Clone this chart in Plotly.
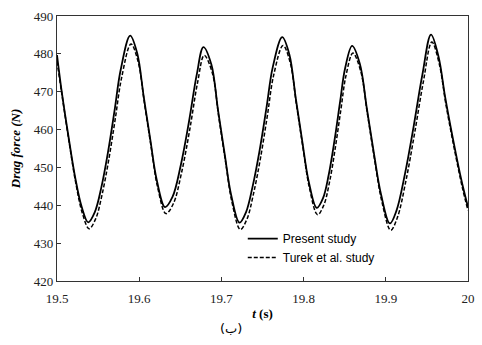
import plotly.graph_objects as go

# ---- data ----
t_present = [19.500, 19.506, 19.514, 19.522, 19.530, 19.538, 19.546, 19.554, 19.562, 19.570,
             19.5775, 19.589, 19.5975, 19.6055, 19.6136, 19.6214, 19.6315, 19.6405, 19.6505, 19.6605,
             19.670, 19.6781, 19.6878, 19.6958, 19.704, 19.7118, 19.722, 19.730, 19.738, 19.7465,
             19.755, 19.7625, 19.774, 19.7826, 19.7904, 19.7984, 19.806, 19.816, 19.8235, 19.8305,
             19.8375, 19.8445, 19.8505, 19.859, 19.8684, 19.877, 19.8857, 19.8941, 19.905, 19.913,
             19.9235, 19.934, 19.9445, 19.955, 19.9641, 19.9721, 19.982, 19.992, 20.000]
f_present = [479.7, 469.6, 458.1, 447.5, 439.6, 435.5, 438.2, 444.8, 454.0, 465.0,
             475.8, 484.8, 480.2, 468.7, 457.2, 446.6, 439.5, 442.2, 450.5, 462.0,
             474.5, 481.8, 477.2, 465.3, 453.5, 442.8, 435.4, 438.2, 445.0, 454.5,
             466.0, 476.5, 484.4, 479.9, 468.4, 456.9, 446.5, 439.3, 441.8, 448.0,
             457.0, 467.5, 476.2, 482.1, 477.4, 465.5, 453.5, 443.0, 435.2, 438.6,
             448.5, 461.0, 474.5, 485.1, 479.3, 468.7, 457.2, 446.6, 439.5]

t_turek = [19.500, 19.507, 19.515, 19.523, 19.531, 19.539, 19.547, 19.555, 19.563, 19.571,
           19.5785, 19.590, 19.5985, 19.6065, 19.6146, 19.6224, 19.6325, 19.6415, 19.6515, 19.6615,
           19.671, 19.6791, 19.6888, 19.6968, 19.705, 19.7128, 19.723, 19.731, 19.739, 19.7475,
           19.756, 19.7635, 19.775, 19.7836, 19.7914, 19.7994, 19.807, 19.817, 19.8245, 19.8315,
           19.8385, 19.8455, 19.8515, 19.860, 19.8694, 19.878, 19.8867, 19.8951, 19.906, 19.914,
           19.9245, 19.935, 19.9455, 19.956, 19.9651, 19.9731, 19.983, 19.993, 20.000]
f_turek = [478.0, 467.8, 456.3, 445.7, 437.8, 433.8, 436.4, 443.0, 452.1, 463.0,
           473.6, 482.6, 478.1, 466.8, 455.3, 444.8, 437.8, 440.4, 448.6, 460.0,
           472.4, 479.6, 475.1, 463.3, 451.6, 440.9, 433.6, 436.3, 443.0, 452.4,
           463.8, 474.3, 482.2, 477.8, 466.4, 455.0, 444.7, 437.5, 440.0, 446.1,
           455.1, 465.5, 474.2, 480.2, 475.5, 463.6, 451.6, 441.1, 433.4, 436.7,
           446.5, 459.0, 472.4, 483.1, 477.3, 466.7, 455.3, 444.8, 438.6]

x_ticks = [19.5, 19.6, 19.7, 19.8, 19.9, 20.0]
x_tick_labels = ["19.5", "19.6", "19.7", "19.8", "19.9", "20"]
y_ticks = [420, 430, 440, 450, 460, 470, 480, 490]

fig = go.Figure()
fig.add_trace(go.Scatter(x=t_present, y=f_present, mode="lines", name="Present study",
                         line=dict(color="black", width=1.8, shape="spline", smoothing=1.0)))
fig.add_trace(go.Scatter(x=t_turek, y=f_turek, mode="lines", name="Turek et al. study",
                         line=dict(color="black", width=1.5, dash="4px,2px", shape="spline", smoothing=1.0)))

serif = "Liberation Serif"
fig.update_layout(
    width=482, height=345,
    margin=dict(l=57, r=7, t=16, b=64),
    paper_bgcolor="white", plot_bgcolor="white",
    showlegend=True,
    legend=dict(x=0.452, y=0.215, xanchor="left", yanchor="top",
                bgcolor="rgba(0,0,0,0)", font=dict(family="Liberation Sans", size=12, color="black"),
                tracegroupgap=0),
    annotations=[dict(text="(ب)", xref="paper", yref="paper", x=(234 - 57) / 418, y=-(328 - 281) / 265,
                      xanchor="center", yanchor="middle", showarrow=False,
                      font=dict(family="DejaVu Sans", size=13, color="black"))],
)
fig.update_xaxes(range=[19.5, 20.0], tickvals=x_ticks, ticktext=x_tick_labels,
                 showline=True, linecolor="#333", linewidth=1.2, mirror=True,
                 ticks="inside", ticklen=4, tickcolor="#333", showgrid=False, zeroline=False,
                 tickfont=dict(family=serif, size=13, color="#222"),
                 ticklabelstandoff=5,
                 title=dict(text="<b><i>t</i> (s)</b>", font=dict(family=serif, size=13, color="black"), standoff=4))
fig.update_yaxes(range=[420, 490], tickvals=y_ticks,
                 showline=True, linecolor="#333", linewidth=1.2, mirror=True,
                 ticks="inside", ticklen=4, tickcolor="#333", showgrid=False, zeroline=False,
                 tickfont=dict(family=serif, size=13, color="#222"),
                 title=dict(text="<b><i>Drag force (N)</i></b>", font=dict(family=serif, size=13, color="black"), standoff=10))

fig.write_html("out.html")
